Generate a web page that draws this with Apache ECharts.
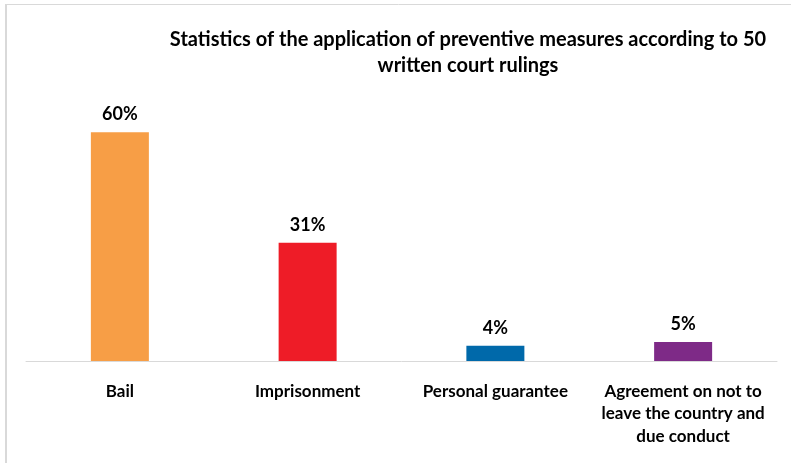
<!DOCTYPE html>
<html><head><meta charset="utf-8">
<script src="https://cdn.jsdelivr.net/npm/echarts@6/dist/echarts.min.js"></script>
<style>html,body{margin:0;padding:0;background:#fff}#c{width:791px;height:463px}</style>
</head><body><div id="c"></div>
<script>
const categories = ['Bail', 'Imprisonment', 'Personal guarantee', 'Agreement on not to\nleave the country and\ndue conduct'];
const values = [60, 31, 4, 5];
const colors = ['#F79E46', '#EE1C27', '#0069AA', '#7E2A87'];
const titleText = 'Statistics of the application of preventive measures according to 50\nwritten court rulings';

const FONT = 'Lato, "Open Sans", sans-serif';
const chart = echarts.init(document.getElementById('c'));
chart.setOption({
  animation: false,
  backgroundColor: '#fff',
  title: {
    text: titleText,
    left: 463, top: 22, textAlign: 'center',
    textStyle: {fontFamily: FONT, fontSize: 20, fontWeight: 'bold', color: '#000', lineHeight: 26}
  },
  graphic: [
    {type: 'line', shape: {x1: 6, y1: 4.5, x2: 791, y2: 4.5}, style: {stroke: '#d9d9d9', lineWidth: 1}},
    {type: 'line', shape: {x1: 6, y1: 4, x2: 6, y2: 463}, style: {stroke: '#d9d9d9', lineWidth: 2}}
  ],
  grid: {left: 26, right: 14, top: 94, height: 267, containLabel: false},
  xAxis: {
    type: 'category', data: categories,
    axisLine: {lineStyle: {color: '#d9d9d9', width: 1}},
    axisTick: {show: false},
    axisLabel: {interval: 0, margin: 19, fontFamily: FONT, fontSize: 17, fontWeight: 'bold', color: '#000', lineHeight: 22.5}
  },
  yAxis: {type: 'value', min: 0, max: 70, show: false, splitLine: {show: false}},
  series: [{
    type: 'bar', data: values.map((v, i) => ({value: v, itemStyle: {color: colors[i]}})),
    barWidth: 58,
    label: {show: true, position: 'top', distance: 9, formatter: '{c}%', fontFamily: FONT, fontSize: 18, fontWeight: 'bold', color: '#000'}
  }]
});
</script></body></html>
